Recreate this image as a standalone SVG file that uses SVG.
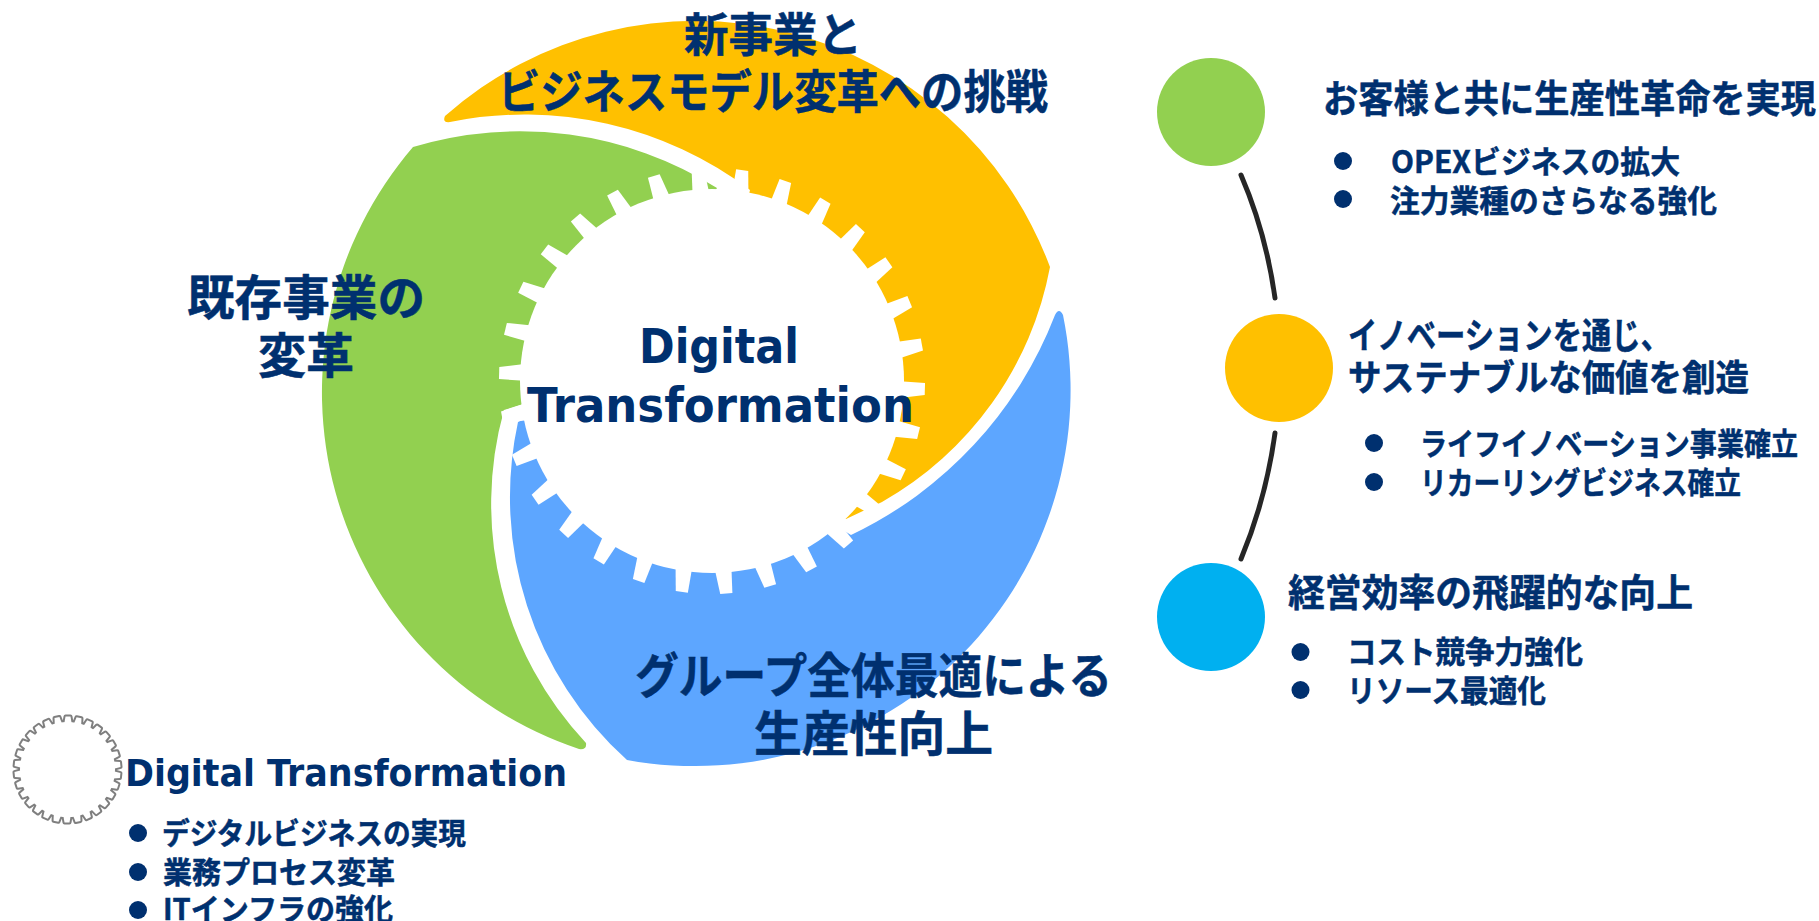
<svg xmlns="http://www.w3.org/2000/svg" width="1819" height="921" viewBox="0 0 1819 921">
<style>
text{font-family:"Noto Sans CJK JP","Noto Sans",sans-serif;font-weight:700;fill:#00306F;stroke:#00306F;stroke-width:.5}
.lat{font-family:"DejaVu Sans",sans-serif;stroke:none}
.t46{font-size:48px}.t44{font-size:46px}.t36{font-size:38px}.t34{font-size:36px}.t30{font-size:31px}.t28{font-size:30px}
.dot{fill:#00306F}
.conn{fill:none;stroke:#262626;stroke-width:5;stroke-linecap:round}
</style>
<defs>
<polygon id="tb" points="-4.7,-188 -3.7,-213 8.5,-213 12,-188"/>
<polygon id="ts" points="-3.2,-46 -2,-53 3,-53 4.2,-46"/>
<g id="big">
<circle r="192"/>
<use href="#tb" transform="rotate(7.5)"/><use href="#tb" transform="rotate(19.5)"/><use href="#tb" transform="rotate(31.5)"/><use href="#tb" transform="rotate(43.5)"/><use href="#tb" transform="rotate(55.5)"/><use href="#tb" transform="rotate(67.5)"/><use href="#tb" transform="rotate(79.5)"/><use href="#tb" transform="rotate(91.5)"/><use href="#tb" transform="rotate(103.5)"/><use href="#tb" transform="rotate(115.5)"/><use href="#tb" transform="rotate(127.5)"/><use href="#tb" transform="rotate(139.5)"/><use href="#tb" transform="rotate(151.5)"/><use href="#tb" transform="rotate(163.5)"/><use href="#tb" transform="rotate(175.5)"/><use href="#tb" transform="rotate(187.5)"/><use href="#tb" transform="rotate(199.5)"/><use href="#tb" transform="rotate(211.5)"/><use href="#tb" transform="rotate(223.5)"/><use href="#tb" transform="rotate(235.5)"/><use href="#tb" transform="rotate(247.5)"/><use href="#tb" transform="rotate(259.5)"/><use href="#tb" transform="rotate(271.5)"/><use href="#tb" transform="rotate(283.5)"/><use href="#tb" transform="rotate(295.5)"/><use href="#tb" transform="rotate(307.5)"/><use href="#tb" transform="rotate(319.5)"/><use href="#tb" transform="rotate(331.5)"/><use href="#tb" transform="rotate(343.5)"/><use href="#tb" transform="rotate(355.5)"/>
</g>
<g id="small">
<circle r="47.5"/>
<use href="#ts" transform="rotate(0)"/><use href="#ts" transform="rotate(12)"/><use href="#ts" transform="rotate(24)"/><use href="#ts" transform="rotate(36)"/><use href="#ts" transform="rotate(48)"/><use href="#ts" transform="rotate(60)"/><use href="#ts" transform="rotate(72)"/><use href="#ts" transform="rotate(84)"/><use href="#ts" transform="rotate(96)"/><use href="#ts" transform="rotate(108)"/><use href="#ts" transform="rotate(120)"/><use href="#ts" transform="rotate(132)"/><use href="#ts" transform="rotate(144)"/><use href="#ts" transform="rotate(156)"/><use href="#ts" transform="rotate(168)"/><use href="#ts" transform="rotate(180)"/><use href="#ts" transform="rotate(192)"/><use href="#ts" transform="rotate(204)"/><use href="#ts" transform="rotate(216)"/><use href="#ts" transform="rotate(228)"/><use href="#ts" transform="rotate(240)"/><use href="#ts" transform="rotate(252)"/><use href="#ts" transform="rotate(264)"/><use href="#ts" transform="rotate(276)"/><use href="#ts" transform="rotate(288)"/><use href="#ts" transform="rotate(300)"/><use href="#ts" transform="rotate(312)"/><use href="#ts" transform="rotate(324)"/><use href="#ts" transform="rotate(336)"/><use href="#ts" transform="rotate(348)"/>
</g>
</defs>

<g id="blade-orange">
<path fill="#FFC000" d="M445 116 A378 378 0 0 1 1050 267 A342 342 0 0 1 882 502 L846 519 L700 400 L750 190 A375 375 0 0 0 450 122 Q442 123 445 116 Z"/>
</g>
<g id="blade-green">
<path fill="#92D050" d="M413 147 A371 371 0 0 1 717 188 L600 380 L504 410 A349 349 0 0 0 586 743 Q587 750 579 749 A376 376 0 0 1 413 147 Z"/>
</g>
<g id="blade-blue">
<path fill="#5DA6FF" d="M1055 315 Q1059 307 1063 315 A376 376 0 0 1 627 760 A354 354 0 0 1 518 422 L600 380 L851 535 A405 405 0 0 0 1055 315 Z"/>
</g>

<g id="gear-center">
<use href="#big" transform="translate(712 381)" fill="#fff"/>
<text class="lat" x="639" y="363" font-size="48" textLength="160" lengthAdjust="spacingAndGlyphs">Digital</text>
<text class="lat" x="527" y="422" font-size="48" textLength="387" lengthAdjust="spacingAndGlyphs">Transformation</text>
</g>

<g id="label-new-business">
<text class="t44" x="684" y="51" textLength="178" lengthAdjust="spacingAndGlyphs">新事業と</text>
<text class="t44" x="498" y="108" textLength="550" lengthAdjust="spacingAndGlyphs">ビジネスモデル変革への挑戦</text>
</g>
<g id="label-existing">
<text class="t46" x="187" y="315" textLength="238" lengthAdjust="spacingAndGlyphs">既存事業の</text>
<text class="t46" x="258" y="373" textLength="96" lengthAdjust="spacingAndGlyphs">変革</text>
</g>
<g id="label-group">
<text class="t46" x="635" y="693" textLength="477" lengthAdjust="spacingAndGlyphs">グループ全体最適による</text>
<text class="t46" x="754" y="751" textLength="239" lengthAdjust="spacingAndGlyphs">生産性向上</text>
</g>

<g id="legend-dt">
<g transform="translate(67.5 769.5)">
<use href="#small" fill="#7F7F7F" stroke="#7F7F7F" stroke-width="4" stroke-linejoin="round"/>
<use href="#small" fill="#fff"/>
</g>
<text class="lat" x="125" y="786" font-size="38" textLength="442" lengthAdjust="spacingAndGlyphs">Digital Transformation</text>
<circle class="dot" cx="138" cy="833" r="9"/><text class="t28" x="162" y="844" textLength="304" lengthAdjust="spacingAndGlyphs">デジタルビジネスの実現</text>
<circle class="dot" cx="138" cy="872" r="9"/><text class="t28" x="163" y="883" textLength="232" lengthAdjust="spacingAndGlyphs">業務プロセス変革</text>
<circle class="dot" cx="138" cy="910" r="9"/><text class="t28" x="163" y="920" textLength="230" lengthAdjust="spacingAndGlyphs">ITインフラの強化</text>
</g>

<g id="connectors">
<path class="conn" d="M1241 175 Q1266 233 1275 298"/>
<path class="conn" d="M1275 433 Q1266 499 1241 559"/>
</g>

<g id="node-green">
<circle cx="1211" cy="112" r="54" fill="#92D050"/>
<text class="t36" x="1323" y="112" textLength="493" lengthAdjust="spacingAndGlyphs">お客様と共に生産性革命を実現</text>
<circle class="dot" cx="1343" cy="161" r="9"/><text class="t30" x="1391" y="173" textLength="289" lengthAdjust="spacingAndGlyphs">OPEXビジネスの拡大</text>
<circle class="dot" cx="1343" cy="199" r="9"/><text class="t30" x="1390" y="212" textLength="327" lengthAdjust="spacingAndGlyphs">注力業種のさらなる強化</text>
</g>
<g id="node-orange">
<circle cx="1279" cy="368" r="54" fill="#FFC000"/>
<text class="t34" x="1348" y="349" textLength="322" lengthAdjust="spacingAndGlyphs">イノベーションを通じ、</text>
<text class="t34" x="1348" y="391" textLength="401" lengthAdjust="spacingAndGlyphs">サステナブルな価値を創造</text>
<circle class="dot" cx="1374" cy="443" r="9"/><text class="t30" x="1420" y="455" textLength="378" lengthAdjust="spacingAndGlyphs">ライフイノベーション事業確立</text>
<circle class="dot" cx="1374" cy="482" r="9"/><text class="t30" x="1420" y="494" textLength="321" lengthAdjust="spacingAndGlyphs">リカーリングビジネス確立</text>
</g>
<g id="node-blue">
<circle cx="1211" cy="617" r="54" fill="#00B0F0"/>
<text class="t36" x="1288" y="606" textLength="405" lengthAdjust="spacingAndGlyphs">経営効率の飛躍的な向上</text>
<circle class="dot" cx="1300.5" cy="652" r="9"/><text class="t30" x="1347" y="663" textLength="236" lengthAdjust="spacingAndGlyphs">コスト競争力強化</text>
<circle class="dot" cx="1300.5" cy="690" r="9"/><text class="t30" x="1347" y="702" textLength="199" lengthAdjust="spacingAndGlyphs">リソース最適化</text>
</g>
</svg>
